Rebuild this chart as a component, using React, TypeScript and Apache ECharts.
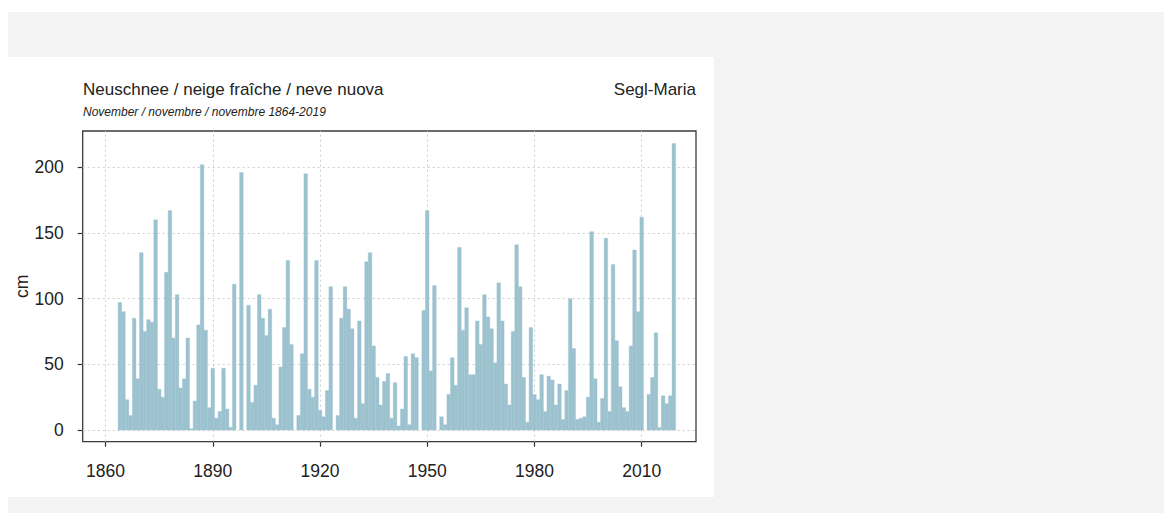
import React, { useEffect, useRef } from "react";
import * as echarts from "echarts";

// November fresh snow sums (cm), Segl-Maria, one value per year from firstYear on
const firstYear = 1864;
const novemberSnow = [
  97, 90, 23, 11, 85, 39, 135, 75, 84, 82, // 1864-1873
  160, 31, 25, 120, 167, 70, 103, 32, 39, 70, // 1874-1883
  1, 22, 80, 202, 76, 17, 47, 9, 14, 47, // 1884-1893
  16, 2, 111, 0, 196, 0, 95, 21, 34, 103, // 1894-1903
  85, 72, 92, 9, 4, 48, 78, 129, 65, 0, // 1904-1913
  11, 58, 195, 31, 25, 129, 15, 10, 30, 109, // 1914-1923
  0, 11, 85, 109, 92, 77, 9, 83, 20, 128, // 1924-1933
  135, 64, 40, 19, 37, 43, 9, 36, 3, 16, // 1934-1943
  56, 4, 58, 55, 0, 91, 167, 45, 110, 0, // 1944-1953
  10, 4, 27, 55, 34, 139, 76, 93, 42, 42, // 1954-1963
  83, 65, 103, 86, 77, 51, 112, 83, 35, 19, // 1964-1973
  75, 141, 109, 40, 6, 78, 27, 23, 42, 14, // 1974-1983
  41, 38, 19, 35, 8, 30, 100, 62, 8, 9, // 1984-1993
  10, 25, 151, 39, 6, 24, 146, 14, 126, 68, // 1994-2003
  33, 17, 14, 64, 137, 90, 162, 0, 27, 40, // 2004-2013
  74, 2, 26, 20, 26, 218, // 2014-2019
];

const xTickYears = [1860, 1890, 1920, 1950, 1980, 2010];
const yTickValues = [0, 50, 100, 150, 200];

const titleText = "Neuschnee / neige fraîche / neve nuova";
const subtitleText = "November / novembre / novembre 1864-2019";
const stationText = "Segl-Maria";
const unitText = "cm";

const BAR_COLOR = "#9cc2cf";
const FONT = '"Liberation Sans", Arial, Helvetica, sans-serif';

// plot frame in page pixels
const FRAME = { left: 82.7, top: 131, right: 696, bottom: 441.7 };
const X_EXTENT = { min: 1853.6, max: 2025.2 };
const Y_EXTENT = { min: -8.9, max: 227.6 };

export default function App() {
  const ref = useRef<HTMLDivElement>(null);

  useEffect(() => {
    if (!ref.current) return;
    const chart = echarts.init(ref.current, null, { renderer: "svg" });

    const frameW = FRAME.right - FRAME.left;
    const frameH = FRAME.bottom - FRAME.top;
    const pxPerYear = frameW / (X_EXTENT.max - X_EXTENT.min);
    const pxPerCm = frameH / (Y_EXTENT.max - Y_EXTENT.min);

    // inner grid that only carries the tick marks and labels
    const tx0 = xTickYears[0];
    const tx1 = xTickYears[xTickYears.length - 1];
    const ty0 = yTickValues[0];
    const ty1 = yTickValues[yTickValues.length - 1];
    const tickGrid = {
      left: FRAME.left + (tx0 - X_EXTENT.min) * pxPerYear,
      width: (tx1 - tx0) * pxPerYear,
      top: FRAME.bottom - (ty1 - Y_EXTENT.min) * pxPerCm,
      height: (ty1 - ty0) * pxPerCm,
    };
    const xOffset = FRAME.bottom - (tickGrid.top + tickGrid.height);
    const yOffset = tickGrid.left - FRAME.left;

    const data = novemberSnow.map((v, i) => [firstYear + i, v]);

    const gridLines = [
      ...yTickValues.map((v) => ({ yAxis: v })),
      ...xTickYears.map((y) => ({ xAxis: y })),
    ];

    const tickStyle = { show: true, length: 5, inside: false, lineStyle: { color: "#333", width: 1.2 } };
    const labelStyle = { color: "#222", fontSize: 17.5, fontFamily: FONT };

    chart.setOption({
      animation: false,
      grid: [
        {
          left: FRAME.left,
          top: FRAME.top,
          width: frameW,
          height: frameH,
          show: true,
          borderColor: "#3a3a3a",
          borderWidth: 1.3,
          backgroundColor: "transparent",
        },
        { ...tickGrid, show: false },
      ],
      xAxis: [
        {
          gridIndex: 0,
          type: "value",
          min: X_EXTENT.min,
          max: X_EXTENT.max,
          show: false,
          splitLine: { show: false },
        },
        {
          gridIndex: 1,
          type: "value",
          position: "bottom",
          min: tx0,
          max: tx1,
          interval: 30,
          offset: xOffset,
          axisLine: { show: false, onZero: false },
          axisTick: tickStyle,
          axisLabel: { ...labelStyle, margin: 20, formatter: (v: number) => String(v) },
          splitLine: { show: false },
        },
      ],
      yAxis: [
        {
          gridIndex: 0,
          type: "value",
          min: Y_EXTENT.min,
          max: Y_EXTENT.max,
          axisLine: { show: false, onZero: false },
          axisTick: { show: false },
          axisLabel: { show: false },
          splitLine: { show: false },
          name: unitText,
          nameLocation: "middle",
          nameRotate: 90,
          nameGap: 52,
          nameTextStyle: { color: "#222", fontSize: 17.5, fontFamily: FONT },
        },
        {
          gridIndex: 1,
          type: "value",
          position: "left",
          min: ty0,
          max: ty1,
          interval: 50,
          offset: yOffset,
          axisLine: { show: false, onZero: false },
          axisTick: tickStyle,
          axisLabel: { ...labelStyle, margin: 19 },
          splitLine: { show: false },
        },
      ],
      graphic: [
        {
          type: "text",
          left: 83,
          top: 81,
          style: { text: titleText, fontSize: 17, fontFamily: FONT, fill: "#222" },
        },
        {
          type: "text",
          left: 83,
          top: 105.5,
          style: { text: subtitleText, fontSize: 12, fontStyle: "italic", fontFamily: FONT, fill: "#222" },
        },
        {
          type: "text",
          right: 1164 - 696,
          top: 81,
          style: { text: stationText, fontSize: 17, fontFamily: FONT, fill: "#222" },
        },
      ],
      series: [
        {
          type: "custom",
          xAxisIndex: 0,
          yAxisIndex: 0,
          z: 10,
          clip: true,
          data,
          encode: { x: 0, y: 1 },
          renderItem: (_params: any, api: any) => {
            const year = api.value(0);
            const val = api.value(1);
            if (!(val > 0)) return null;
            const p0 = api.coord([year - 0.5, val]);
            const p1 = api.coord([year + 0.5, 0]);
            return {
              type: "rect",
              shape: { x: p0[0], y: p0[1], width: p1[0] - p0[0], height: p1[1] - p0[1] },
              style: { fill: BAR_COLOR, stroke: BAR_COLOR, lineWidth: 0.4 },
            };
          },
          markLine: {
            silent: true,
            symbol: ["none", "none"],
            label: { show: false },
            lineStyle: { color: "#cfcfcf", width: 1, type: [2, 3] },
            emphasis: { disabled: true },
            data: gridLines,
          },
        },
      ],
    });

    return () => chart.dispose();
  }, []);

  return (
    <div style={{ position: "fixed", left: 0, top: 0, width: 1164, height: 513, background: "#ffffff" }}>
      <div style={{ position: "absolute", left: 8, top: 12, width: 1156, height: 501, background: "#f3f3f3" }} />
      <div style={{ position: "absolute", left: 8, top: 57, width: 706, height: 440, background: "#ffffff" }} />
      <div ref={ref} style={{ position: "absolute", left: 0, top: 0, width: 1164, height: 513 }} />
    </div>
  );
}
